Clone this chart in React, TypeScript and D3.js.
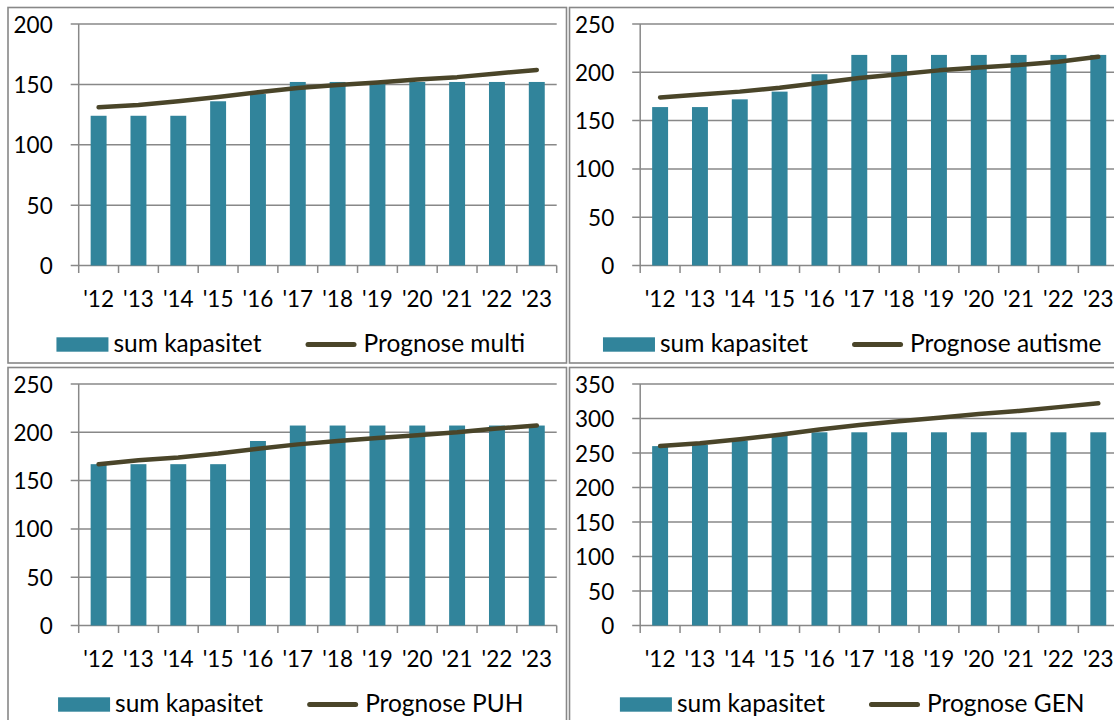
import React, { useEffect, useRef } from "react";
import * as d3 from "d3";

const years = ["'12", "'13", "'14", "'15", "'16", "'17", "'18", "'19", "'20", "'21", "'22", "'23"];

const capMulti = [124, 124, 124, 136, 142, 152, 152, 152, 152, 152, 152, 152];
const progMulti = [131, 133, 136, 139.5, 143.5, 147, 149.5, 151.5, 154, 156, 159, 162];

const capAutisme = [164, 164, 172, 180, 198, 218, 218, 218, 218, 218, 218, 218];
const progAutisme = [174, 177, 180, 184, 189, 194, 198, 202, 205, 207.5, 211, 216];

const capPUH = [167, 167, 167, 167, 191, 207, 207, 207, 207, 207, 207, 207];
const progPUH = [167, 171, 174, 178, 183, 187.5, 191, 194, 197, 200, 204, 207];

const capGEN = [260, 262, 268, 275, 280, 280, 280, 280, 280, 280, 280, 280];
const progGEN = [260, 264, 270, 276.5, 284, 290.5, 296, 301, 306.5, 311, 316.5, 322];

const barLabel = "sum kapasitet";
const lineLabels = ["Prognose multi", "Prognose autisme", "Prognose PUH", "Prognose GEN"];
const yMaxes = [200, 250, 250, 350];

const BAR = "#31849B";
const LINE = "#4A4529";
const GRID = "#888888";
const FONT = "Lato, 'Open Sans', sans-serif";

export default function App() {
  const ref = useRef<SVGSVGElement>(null);

  useEffect(() => {
    const svg = d3.select(ref.current);
    svg.selectAll("*").remove();

    const panels = [
      { x: 8, y: 7.5, bars: capMulti, line: progMulti, label: lineLabels[0], yMax: yMaxes[0] },
      { x: 569.5, y: 7.5, bars: capAutisme, line: progAutisme, label: lineLabels[1], yMax: yMaxes[1] },
      { x: 8, y: 367.5, bars: capPUH, line: progPUH, label: lineLabels[2], yMax: yMaxes[2] },
      { x: 569.5, y: 367.5, bars: capGEN, line: progGEN, label: lineLabels[3], yMax: yMaxes[3] },
    ];
    const PW = 558.5, PH = 355.5;
    const plotL = 70.7, plotT = 16.5, plotW = 478, plotH = 241.5;
    const TICKFS = 22.5, LEGFS = 24.5;

    panels.forEach((p) => {
      const g = svg.append("g").attr("transform", `translate(${p.x},${p.y})`);
      g.append("rect").attr("x", 0).attr("y", 0).attr("width", PW).attr("height", PH)
        .attr("fill", "white").attr("stroke", GRID).attr("stroke-width", 1.6);

      const pg = g.append("g").attr("transform", `translate(${plotL},${plotT})`);
      const x = d3.scaleBand<string>().domain(years).range([0, plotW]).paddingInner(0.6).paddingOuter(0.3);
      const y = d3.scaleLinear().domain([0, p.yMax]).range([plotH, 0]);
      const ticks = d3.range(0, p.yMax + 1, 50);

      ticks.forEach((t) => {
        pg.append("line").attr("x1", -8).attr("x2", plotW).attr("y1", y(t)).attr("y2", y(t))
          .attr("stroke", GRID).attr("stroke-width", 1.5);
        pg.append("text").attr("x", -26).attr("y", y(t)).attr("text-anchor", "end")
          .attr("dominant-baseline", "central").attr("font-family", FONT).attr("font-size", TICKFS)
          .attr("fill", "#000").text(String(t));
      });
      pg.append("line").attr("x1", 0).attr("x2", 0).attr("y1", 0).attr("y2", plotH)
        .attr("stroke", GRID).attr("stroke-width", 1.5);
      const step = x.step();
      d3.range(0, years.length + 1).forEach((i) => {
        pg.append("line").attr("x1", i * step).attr("x2", i * step).attr("y1", plotH).attr("y2", plotH + 7.5)
          .attr("stroke", GRID).attr("stroke-width", 1.5);
      });

      pg.selectAll("rect.bar").data(p.bars).enter().append("rect")
        .attr("x", (_d, i) => x(years[i])!)
        .attr("width", x.bandwidth())
        .attr("y", (d) => y(d))
        .attr("height", (d) => plotH - y(d))
        .attr("fill", BAR);

      years.forEach((yr) => {
        pg.append("text").attr("x", x(yr)! + x.bandwidth() / 2).attr("y", plotH + 41.5)
          .attr("text-anchor", "middle").attr("font-family", FONT).attr("font-size", TICKFS)
          .attr("fill", "#000").text(yr);
      });

      const lineGen = d3.line<number>()
        .x((_d, i) => x(years[i])! + x.bandwidth() / 2)
        .y((d) => y(d));
      pg.append("path").attr("d", lineGen(p.line)!).attr("fill", "none")
        .attr("stroke", LINE).attr("stroke-width", 4.5)
        .attr("stroke-linecap", "round").attr("stroke-linejoin", "round");

      const lg = g.append("g");
      const t1 = lg.append("text").attr("font-family", FONT).attr("font-size", LEGFS).attr("fill", "#000").text(barLabel);
      const t2 = lg.append("text").attr("font-family", FONT).attr("font-size", LEGFS).attr("fill", "#000").text(p.label);
      const w1 = (t1.node() as SVGTextElement).getComputedTextLength();
      const w2 = (t2.node() as SVGTextElement).getComputedTextLength();
      const sw = 52, gap = 5, between = 44, lsw = 51, lgap = 7;
      const total = sw + gap + w1 + between + lsw + lgap + w2;
      const start = PW / 2 + 3.5 - total / 2;
      const cy = 337;
      lg.append("rect").attr("x", start).attr("y", cy - 7.2).attr("width", sw).attr("height", 14.4).attr("fill", BAR);
      t1.attr("x", start + sw + gap).attr("y", cy + 7.8);
      const lx = start + sw + gap + w1 + between;
      lg.append("line").attr("x1", lx + 2.5).attr("x2", lx + lsw - 2.5).attr("y1", cy).attr("y2", cy)
        .attr("stroke", LINE).attr("stroke-width", 5).attr("stroke-linecap", "round");
      t2.attr("x", lx + lsw + lgap).attr("y", cy + 7.8);
    });
  }, []);

  return (
    <svg ref={ref} width={1114} height={720}
      style={{ position: "absolute", left: 0, top: 0, display: "block", background: "white" }} />
  );
}
